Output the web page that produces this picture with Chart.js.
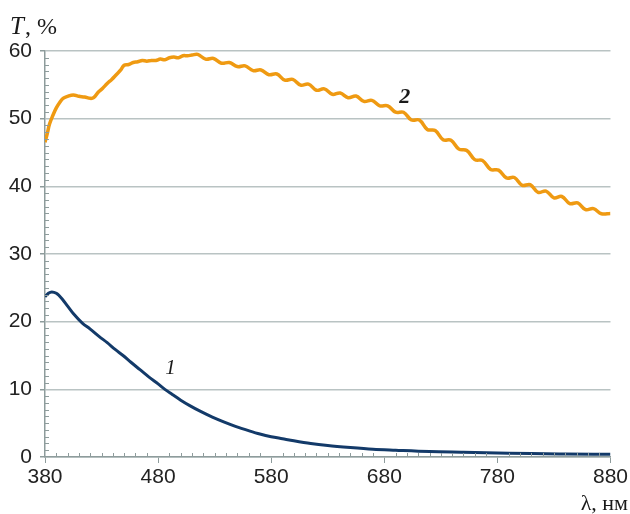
<!DOCTYPE html>
<html>
<head>
<meta charset="UTF-8">
<script src="https://cdn.jsdelivr.net/npm/chart.js"></script>
<style>
  html, body { margin: 0; padding: 0; background: #fff; }
  #wrap { position: relative; width: 630px; height: 514px; }
</style>
</head>
<body>
<div id="wrap"><canvas id="chart" width="630" height="514"></canvas></div>
<script>
// wavelength, nm
const xMin = 380, xMax = 880;
const xTicks = [380, 480, 580, 680, 780, 880];
const yTicks = [0, 10, 20, 30, 40, 50, 60];

// curve 1
const wl1 = [380, 383, 386, 390, 395, 400, 405, 413, 420, 428, 435, 442, 449, 456, 464, 472, 480, 486, 492, 500, 508, 518, 528, 538, 549, 560, 570, 580, 590, 600, 615, 630, 650, 670, 690, 720, 750, 780, 810, 840, 880];
const t1  = [23.7, 24.2, 24.4, 24.2, 23.4, 22.3, 21.2, 19.8, 18.9, 17.8, 16.9, 15.9, 15.0, 14.0, 12.9, 11.8, 10.8, 10.0, 9.3, 8.4, 7.6, 6.7, 5.9, 5.2, 4.5, 3.9, 3.4, 3.0, 2.7, 2.4, 2.0, 1.7, 1.4, 1.15, 1.0, 0.8, 0.7, 0.6, 0.5, 0.45, 0.4];

// curve 2
const wl2 = [380, 382, 384, 387, 390, 393, 396, 400, 405, 410, 415, 420, 423, 427, 431, 435, 439, 443, 447, 450, 454, 458, 462, 466, 470, 474, 478, 482, 486, 490, 494, 498, 502, 506, 510,
  515, 522, 529, 536, 543, 550, 557, 564, 571, 578, 585, 592, 599, 606, 613, 620, 627, 634, 641, 648, 655, 662, 669, 676, 683, 690, 697, 704, 711, 718, 725, 732, 739, 746, 753, 760, 767, 774, 781, 788, 795, 802, 809, 816, 823, 830, 837, 844, 851, 858, 865, 872, 880];
const t2  = [46.5, 47.8, 49.2, 50.5, 51.6, 52.4, 53.0, 53.3, 53.5, 53.3, 53.2, 53.0, 53.1, 53.9, 54.5, 55.2, 55.8, 56.5, 57.2, 57.9, 58.0, 58.3, 58.4, 58.6, 58.5, 58.6, 58.6, 58.8, 58.7, 59.0, 59.1, 59.0, 59.3, 59.3, 59.4,
  59.5, 58.8, 58.9, 58.2, 58.3, 57.7, 57.8, 57.1, 57.2, 56.5, 56.6, 55.7, 55.8, 54.95, 55.1, 54.2, 54.4, 53.6, 53.8, 53.1, 53.35, 52.55, 52.7, 51.9, 51.9, 50.95, 50.95, 49.8, 49.8, 48.4, 48.25, 46.9, 46.8, 45.5, 45.3, 43.95, 43.8, 42.5, 42.4, 41.25, 41.3, 40.15, 40.25, 39.1, 39.3, 38.3, 38.5, 37.45, 37.55, 36.55, 36.7, 35.95, 36.0];

const curveLabels = [
  { text: '1', x: 491, y: 13.1, font: 'italic 21px "Liberation Serif", serif' },
  { text: '2', x: 698, y: 53.2, font: 'italic bold 22px "Liberation Serif", serif' }
];

const tickFont = { family: '"Liberation Sans Narrow", "Liberation Sans", Arial, sans-serif', size: 21 };

// minor ticks + axis captions + curve numbers
const extras = {
  id: 'extras',
  afterDraw(chart) {
    const { ctx, scales: { x, y } } = chart;
    ctx.save();
    ctx.strokeStyle = '#8e9c9c';
    ctx.lineWidth = 1;
    ctx.beginPath();
    for (let v = 1; v < 60; v++) {
      if (v % 10 === 0) continue;
      const py = Math.round(y.getPixelForValue(v)) + 0.5;
      ctx.moveTo(x.left, py); ctx.lineTo(x.left + 4, py);
    }
    for (let v = xMin + 10; v < xMax; v += 10) {
      if ((v - xMin) % 100 === 0) continue;
      const px = Math.round(x.getPixelForValue(v)) + 0.5;
      ctx.moveTo(px, y.bottom); ctx.lineTo(px, y.bottom - 4);
    }
    ctx.stroke();

    ctx.fillStyle = '#1a1a1a';
    ctx.textAlign = 'center';
    ctx.textBaseline = 'middle';
    curveLabels.forEach(l => {
      ctx.font = l.font;
      ctx.fillText(l.text, x.getPixelForValue(l.x), y.getPixelForValue(l.y));
    });

    ctx.textBaseline = 'alphabetic';
    ctx.textAlign = 'left';
    ctx.font = 'italic 25px "Liberation Serif", serif';
    ctx.fillText('T', 10, 34);
    const tw = ctx.measureText('T').width;
    ctx.font = '24px "Liberation Serif", serif';
    ctx.fillText(', %', 10 + tw + 1, 34);

    ctx.textAlign = 'right';
    ctx.font = '22px "Liberation Serif", serif';
    ctx.fillText('λ, нм', 628, 510);
    ctx.restore();
  }
};

new Chart(document.getElementById('chart'), {
  type: 'line',
  data: {
    datasets: [
      {
        label: '2',
        data: wl2.map((w, i) => ({ x: w, y: t2[i] })),
        borderColor: '#ef9a12',
        borderWidth: 3.5,
        pointRadius: 0,
        tension: 0.4,
        fill: false
      },
      {
        label: '1',
        data: wl1.map((w, i) => ({ x: w, y: t1[i] })),
        borderColor: '#133a69',
        borderWidth: 3,
        pointRadius: 0,
        cubicInterpolationMode: 'monotone',
        fill: false
      }
    ]
  },
  options: {
    responsive: false,
    animation: false,
    layout: { padding: { top: 51, right: 18, left: 0, bottom: 0 } },
    plugins: { legend: { display: false }, tooltip: { enabled: false } },
    scales: {
      x: {
        type: 'linear',
        min: xMin, max: xMax,
        afterBuildTicks: s => { s.ticks = xTicks.map(v => ({ value: v })); },
        afterFit: s => { s.height = 57; },
        ticks: { color: '#222', font: tickFont, padding: 2, maxRotation: 0 },
        grid: { drawOnChartArea: false, drawTicks: true, tickLength: 6, color: '#8e9c9c' },
        border: { color: '#8e9c9c', width: 1.5 }
      },
      y: {
        min: 0, max: 60,
        afterBuildTicks: s => { s.ticks = yTicks.map(v => ({ value: v })); },
        afterFit: s => { s.width = 45; },
        ticks: { color: '#222', font: tickFont, padding: 8 },
        grid: { color: '#b9c3c3', lineWidth: 1.5, tickLength: 5, tickColor: '#8e9c9c' },
        border: { color: '#8e9c9c', width: 1.5 }
      }
    }
  },
  plugins: [extras]
});
</script>
</body>
</html>
